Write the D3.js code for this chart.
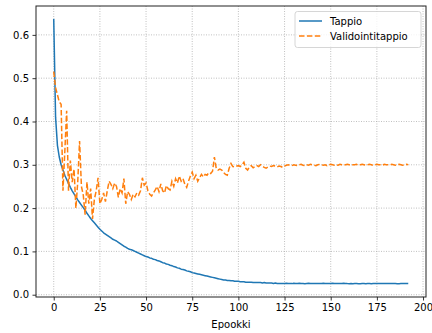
<!DOCTYPE html>
<html>
<head>
<meta charset="utf-8">
<script src="https://cdn.jsdelivr.net/npm/d3@7"></script>
<style>
  body { margin: 0; background: #fff; }
  svg { display: block; font-family: "DejaVu Sans", sans-serif; }
</style>
</head>
<body>
<svg id="chart" width="432" height="333"></svg>
<script>
// training loss per epoch (0..192)
const trainLoss = [
  0.637, 0.410, 0.345, 0.318, 0.300, 0.288, 0.276, 0.266, 0.257, 0.248,
  0.240, 0.233, 0.226, 0.219, 0.213, 0.207, 0.201, 0.195, 0.188, 0.182,
  0.176, 0.171, 0.166, 0.161, 0.156, 0.151, 0.147, 0.143, 0.140, 0.137,
  0.134, 0.131, 0.128, 0.126, 0.124, 0.121, 0.118, 0.115, 0.112, 0.110,
  0.107, 0.105, 0.104, 0.102, 0.100, 0.098, 0.096, 0.094, 0.092, 0.090,
  0.088, 0.087, 0.085, 0.084, 0.082, 0.081, 0.079, 0.078, 0.076, 0.074,
  0.073, 0.071, 0.070, 0.068, 0.067, 0.065, 0.064, 0.062, 0.061, 0.059,
  0.058, 0.057, 0.055, 0.054, 0.053, 0.051, 0.050, 0.049, 0.048, 0.047,
  0.046, 0.045, 0.044, 0.043, 0.042, 0.041, 0.040, 0.039, 0.038, 0.037,
  0.036, 0.035, 0.034, 0.034, 0.033, 0.033, 0.032, 0.032, 0.031, 0.031,
  0.031, 0.030, 0.030, 0.030, 0.029, 0.029, 0.029, 0.029, 0.028, 0.028,
  0.028, 0.028, 0.028, 0.027, 0.028, 0.027, 0.027, 0.027, 0.027, 0.026,
  0.027, 0.026, 0.026, 0.026, 0.026, 0.026, 0.0262, 0.0258, 0.026, 0.0256,
  0.0262, 0.026, 0.0258, 0.0262, 0.0257, 0.026, 0.0255, 0.0259, 0.0262, 0.0258,
  0.026, 0.0256, 0.0259, 0.0261, 0.0257, 0.026, 0.0262, 0.0258, 0.0256, 0.026,
  0.0259, 0.0262, 0.0257, 0.0256, 0.026, 0.0258, 0.0261, 0.0263, 0.0259, 0.0256,
  0.0254, 0.0256, 0.0255, 0.0258, 0.0256, 0.0254, 0.0253, 0.0256, 0.0258, 0.0255,
  0.0257, 0.0256, 0.0254, 0.0257, 0.0259, 0.0256, 0.0258, 0.026, 0.0257, 0.0259,
  0.0261, 0.0258, 0.0257, 0.0256, 0.0258, 0.0257, 0.0255, 0.0254, 0.0256, 0.0258,
  0.0259, 0.0257, 0.0256
];

// validation loss per epoch (0..192)
const valLoss = [
  0.515, 0.478, 0.462, 0.445, 0.440, 0.240, 0.330, 0.425, 0.240, 0.310,
  0.260, 0.290, 0.200, 0.260, 0.355, 0.250, 0.230, 0.185, 0.260, 0.210,
  0.245, 0.175, 0.220, 0.240, 0.270, 0.210, 0.220, 0.235, 0.215, 0.240,
  0.262, 0.255, 0.245, 0.258, 0.250, 0.225, 0.245, 0.235, 0.268, 0.210,
  0.238, 0.232, 0.220, 0.232, 0.226, 0.235, 0.230, 0.240, 0.270, 0.253,
  0.258, 0.240, 0.232, 0.228, 0.235, 0.242, 0.250, 0.238, 0.256, 0.240,
  0.235, 0.252, 0.245, 0.242, 0.262, 0.250, 0.268, 0.258, 0.274, 0.262,
  0.268, 0.255, 0.248, 0.262, 0.274, 0.283, 0.268, 0.276, 0.262, 0.270,
  0.278, 0.272, 0.278, 0.276, 0.282, 0.280, 0.285, 0.318, 0.292, 0.288,
  0.290, 0.288, 0.282, 0.278, 0.276, 0.292, 0.303, 0.296, 0.295, 0.297,
  0.298, 0.296, 0.300, 0.306, 0.292, 0.288, 0.295, 0.298, 0.293, 0.296,
  0.298, 0.296, 0.300, 0.297, 0.294, 0.292, 0.295, 0.297, 0.296, 0.298,
  0.297, 0.295, 0.297, 0.296, 0.294, 0.297, 0.299, 0.300, 0.299, 0.298,
  0.300, 0.299, 0.298, 0.300, 0.301, 0.299, 0.298, 0.300, 0.299, 0.301,
  0.300, 0.299, 0.298, 0.300, 0.301, 0.300, 0.299, 0.300, 0.298, 0.300,
  0.301, 0.300, 0.299, 0.300, 0.299, 0.301, 0.300, 0.299, 0.300, 0.301,
  0.300, 0.299, 0.300, 0.300, 0.301, 0.299, 0.300, 0.301, 0.300, 0.299,
  0.300, 0.301, 0.300, 0.299, 0.300, 0.301, 0.300, 0.300, 0.299, 0.301,
  0.300, 0.300, 0.300, 0.301, 0.300, 0.299, 0.300, 0.301, 0.300, 0.299,
  0.300, 0.301, 0.300
];

const xTicks = [0, 25, 50, 75, 100, 125, 150, 175, 200];
const yTicks = [0.0, 0.1, 0.2, 0.3, 0.4, 0.5, 0.6];
const seriesNames = ["Tappio", "Validointitappio"];
const xLabel = "Epookki";

const svg = d3.select("#chart");
const plotLeft = 36, plotRight = 426, plotTop = 6, plotBottom = 297;

const x = d3.scaleLinear().domain([-9.6, 201.6]).range([plotLeft, plotRight]);
const y = d3.scaleLinear().domain([-0.0053, 0.6667]).range([plotBottom, plotTop]);

// grid
const grid = svg.append("g");
xTicks.forEach(t => {
  grid.append("line")
    .attr("x1", x(t)).attr("x2", x(t))
    .attr("y1", plotTop).attr("y2", plotBottom)
    .attr("stroke", "#b0b0b0").attr("stroke-width", 0.8)
    .attr("stroke-dasharray", "1,1.5");
});
yTicks.forEach(t => {
  grid.append("line")
    .attr("x1", plotLeft).attr("x2", plotRight)
    .attr("y1", y(t)).attr("y2", y(t))
    .attr("stroke", "#b0b0b0").attr("stroke-width", 0.8)
    .attr("stroke-dasharray", "1,1.5");
});

// lines
const line = d3.line()
  .x((d, i) => x(i))
  .y(d => y(d));

svg.append("path")
  .datum(trainLoss)
  .attr("d", line)
  .attr("fill", "none")
  .attr("stroke", "#1f77b4")
  .attr("stroke-width", 1.5)
  .attr("stroke-linejoin", "round");

svg.append("path")
  .datum(valLoss)
  .attr("d", line)
  .attr("fill", "none")
  .attr("stroke", "#ff7f0e")
  .attr("stroke-width", 1.5)
  .attr("stroke-dasharray", "5.5,2.4");

// axes
const xAxis = d3.axisBottom(x).tickValues(xTicks).tickSize(3.5).tickPadding(3.5)
  .tickFormat(d3.format("d"));
const gx = svg.append("g").attr("transform", `translate(0,${plotBottom})`).call(xAxis);
const yAxis = d3.axisLeft(y).tickValues(yTicks).tickSize(3.5).tickPadding(3.5)
  .tickFormat(d3.format(".1f"));
const gy = svg.append("g").attr("transform", `translate(${plotLeft},0)`).call(yAxis);

[gx, gy].forEach(g => {
  g.select(".domain").remove();
  g.selectAll(".tick line").attr("stroke", "#000").attr("stroke-width", 0.8);
  g.selectAll(".tick text")
    .attr("fill", "#000")
    .attr("font-size", "10px")
    .attr("font-family", "DejaVu Sans, sans-serif");
});

// frame
svg.append("rect")
  .attr("x", plotLeft).attr("y", plotTop)
  .attr("width", plotRight - plotLeft).attr("height", plotBottom - plotTop)
  .attr("fill", "none")
  .attr("stroke", "#222")
  .attr("stroke-width", 1);

svg.append("text")
  .attr("x", (plotLeft + plotRight) / 2)
  .attr("y", 328)
  .attr("text-anchor", "middle")
  .attr("font-size", "10px")
  .text(xLabel);

// legend
const legend = svg.append("g");
legend.append("rect")
  .attr("x", 295).attr("y", 11.5)
  .attr("width", 126).attr("height", 36)
  .attr("rx", 2.5)
  .attr("fill", "#fff").attr("fill-opacity", 0.8)
  .attr("stroke", "#ccc").attr("stroke-width", 0.8);

const colors = ["#1f77b4", "#ff7f0e"];
const dashes = [null, "5.5,2.4"];
seriesNames.forEach((name, i) => {
  const cy = 21 + i * 15;
  legend.append("line")
    .attr("x1", 299).attr("x2", 322)
    .attr("y1", cy).attr("y2", cy)
    .attr("stroke", colors[i]).attr("stroke-width", 1.5)
    .attr("stroke-dasharray", dashes[i]);
  legend.append("text")
    .attr("x", 330).attr("y", cy + 3.6)
    .attr("font-size", "10px")
    .text(name);
});
</script>
</body>
</html>
